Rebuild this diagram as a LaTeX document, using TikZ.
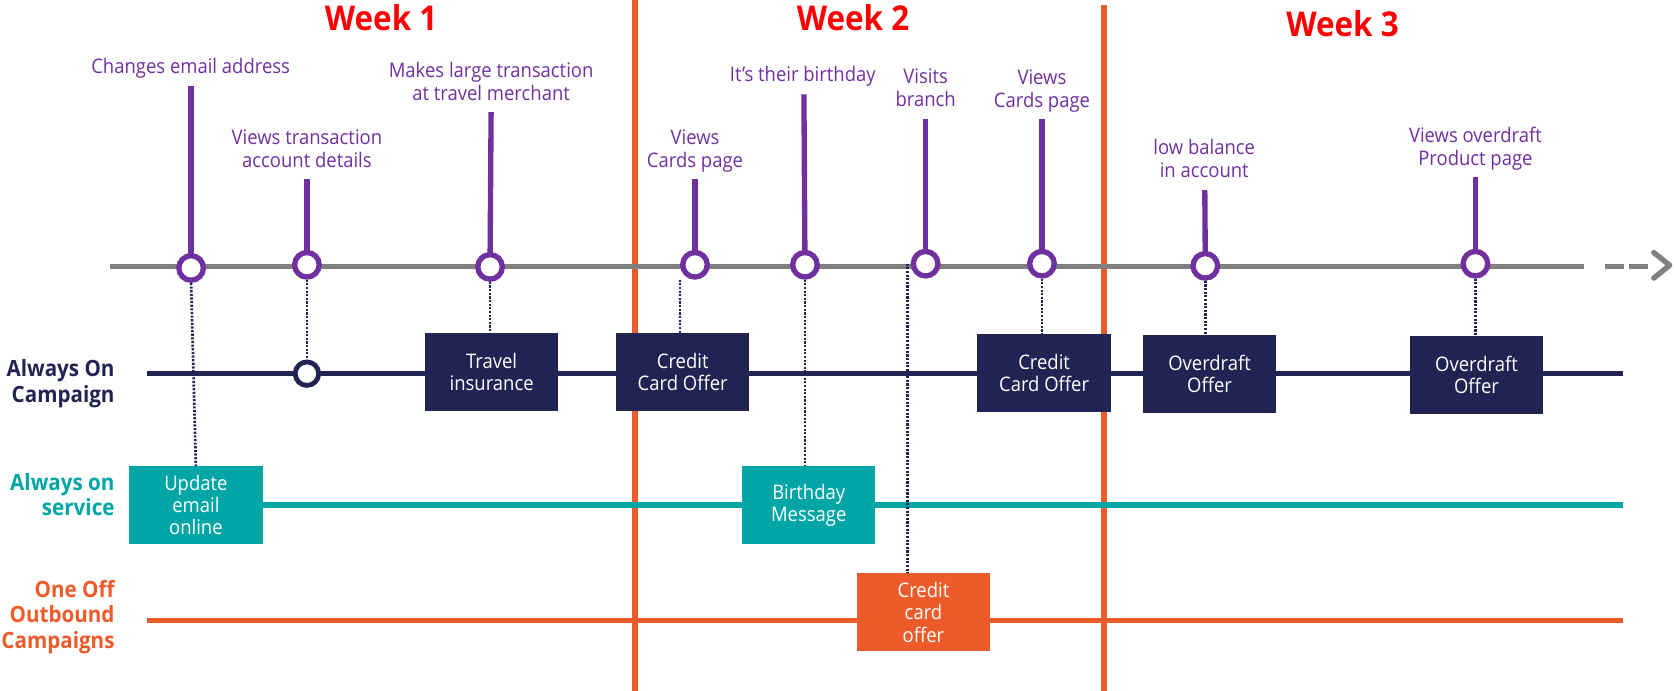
\documentclass[tikz,border=0pt]{standalone}
\usepackage{fontspec}
\setmainfont{Open Sans}[FakeStretch=0.92]
\usetikzlibrary{arrows.meta}
\definecolor{evpurple}{RGB}{112,48,160}
\definecolor{navy}{RGB}{33,36,82}
\definecolor{lanteal}{RGB}{0,166,166}
\definecolor{lanorange}{RGB}{237,91,42}
\definecolor{tlgray}{RGB}{128,128,128}
\definecolor{weekred}{RGB}{255,0,0}
\pgfdeclarelayer{back}
\pgfsetlayers{back,main}
\tikzset{
  week/.style={font=\bfseries\fontsize{32}{36}\selectfont, text=weekred, anchor=base, inner sep=0pt},
  % multi-line labels are placed by the baseline of their last line
  evlabel/.style={font=\fontsize{18.8}{21.5}\selectfont, text=evpurple, align=center, anchor=base, inner sep=0pt},
  stem/.style={draw=evpurple, line width=5pt},
  event/.style={circle, draw=evpurple, fill=white, line width=5pt, minimum size=23pt, inner sep=0pt},
  hub/.style={circle, draw=navy, fill=white, line width=4.5pt, minimum size=22pt, inner sep=0pt},
  tline/.style={draw=tlgray, line width=5pt},
  weekline/.style={draw=lanorange, line width=5.5pt},
  lane/.style={line width=4.8pt},
  lanelabel/.style={font=\bfseries\fontsize{21}{24}\selectfont, align=right, anchor=base east, inner sep=0pt},
  box/.style={minimum width=125pt, minimum height=73pt, inner sep=0pt, text=white, align=center, font=\fontsize{18.8}{20.8}\selectfont},
  navybox/.style={box, fill=navy},
  tealbox/.style={box, fill=lanteal},
  orangebox/.style={box, fill=lanorange},
  link/.style={draw=navy, line width=2.5pt, dash pattern=on 2pt off 1.4pt},
}
\begin{document}
\begin{tikzpicture}[x=1pt, y=-1pt]
\useasboundingbox (0,0) rectangle (1568,647);

% week headings
\node[week] (w1) at (357,28.7) {Week 1};
\node[week] (w2) at (799,28.7) {Week 2};
\node[week] (w3) at (1257.5,34.4) {Week 3};

% week separators
\coordinate (v1t) at (595,0);    \coordinate (v1b) at (595,647);
\coordinate (v2t) at (1034,5);   \coordinate (v2b) at (1034,647);

% customer timeline
\coordinate (g0) at (103,249.5);  \coordinate (g1) at (1484,249.5);
\coordinate (g2) at (1503,249.5); \coordinate (g3) at (1545,249.5);
\coordinate (tip) at (1564,248.5);

% lanes
\coordinate (a0) at (138,350);  \coordinate (a1) at (1520,350);
\coordinate (s1) at (1520,473);
\coordinate (o0) at (138,581);  \coordinate (o1) at (1520,581);

% customer events
\node[event] (c1) at (179,251) {};
\node[event] (c2) at (287.5,248) {};
\node[event] (c3) at (459,250) {};
\node[event] (c4) at (651,248) {};
\node[event] (c5) at (754,248) {};
\node[event] (c6) at (867,247) {};
\node[event] (c7) at (976,247) {};
\node[event] (c8) at (1129,249) {};
\node[event] (c9) at (1382,247) {};

\coordinate (t1) at (179,81);
\coordinate (t2) at (287.5,168);
\coordinate (t3) at (460,105);
\coordinate (t4) at (651,168);
\coordinate (t5) at (753,88.5);
\coordinate (t6) at (867,111);
\coordinate (t7) at (976,111.5);
\coordinate (t8) at (1128.5,178);
\coordinate (t9) at (1382,166);

\node[evlabel] (l1) at (178.6,69) {Changes email address};
\node[evlabel] (l2) at (287.5,156.5) {Views transaction\\account details};
\node[evlabel] (l3) at (460,94) {Makes large transaction\\at travel merchant};
\node[evlabel] (l4) at (651,156.5) {Views\\Cards page};
\node[evlabel] (l5) at (752,76.5) {It’s their birthday};
\node[evlabel] (l6) at (867,99.8) {Visits\\branch};
\node[evlabel] (l7) at (976,100.5) {Views\\Cards page};
\node[evlabel] (l8) at (1128,166) {low balance\\in account};
\node[evlabel] (l9) at (1382,155) {Views overdraft\\Product page};

% actions
\node[hub] (sc) at (287.5,350) {};
\node[navybox] (travel) at (460.5,348.5) {Travel\\insurance};
\node[navybox] (cc1) at (639.5,348.5) {Credit\\Card Offer};
\node[navybox] (cc2) at (978,349.5) {Credit\\Card Offer};
\node[navybox] (od1) at (1133,350.5) {Overdraft\\Offer};
\node[navybox] (od2) at (1383,351.5) {Overdraft\\Offer};
\node[tealbox] (upd) at (183.5,473) {Update\\email\\online};
\node[tealbox] (bday) at (757.5,473) {Birthday\\Message};
\node[orangebox] (cco) at (865,573.5) {Credit\\card\\offer};

% lane titles
\node[lanelabel, text=navy] (n1) at (107.5,377) {Always On\\Campaign};
\node[lanelabel, text=lanteal] (n2) at (107.5,483) {Always on\\service};
\node[lanelabel, text=lanorange] (n3) at (107.5,607.5) {One Off\\Outbound\\Campaigns};

\begin{pgfonlayer}{back}
  \draw[weekline] (v1t) -- (v1b);
  \draw[weekline] (v2t) -- (v2b);
  \draw[tline] (g0) -- (g1);
  \draw[tline, dash pattern=on 18pt off 5pt] (g2) -- (g3);
  \draw[tline, line join=round, line cap=round] (tip) ++(-15,-12) -- (tip) -- ++(-15,12);
  \draw[lane, navy] (a0) -- (a1);
  \draw[lane, lanteal] (upd.east) -- (s1);
  \draw[lane, lanorange] (o0) -- (o1);
  \draw[link] (c1.south) -- (upd.north);
  \draw[link] (c2.south) -- (sc.north);
  \draw[link] (c3.south) -- (c3.south |- travel.north);
  \draw[link] ([xshift=-14pt]c4.south) -- ([xshift=-14pt]c4.south |- cc1.north);
  \draw[link] (c5.south) -- (c5.south |- bday.north);
  \draw[link] ([xshift=-17pt]c6.center) -- ([xshift=-17pt]c6.center |- cco.north);
  \draw[link] (c7.south) -- (c7.south |- cc2.north);
  \draw[link] (c8.south) -- (c8.south |- od1.north);
  \draw[link] (c9.south) -- (c9.south |- od2.north);
  \foreach \i in {1,...,9} {\draw[stem] (t\i) -- (c\i.center);}
\end{pgfonlayer}
\end{tikzpicture}
\end{document}
